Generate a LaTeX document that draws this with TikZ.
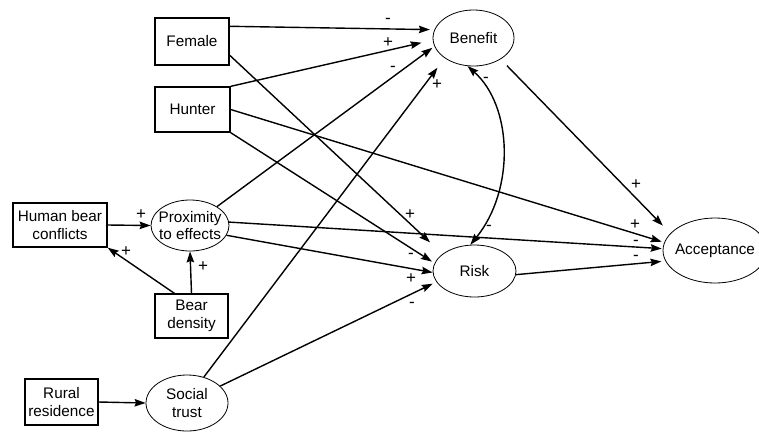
\documentclass[tikz,border=0pt]{standalone}
\usepackage{fontspec}
\setmainfont{Liberation Sans}
\usetikzlibrary{shapes.geometric,arrows.meta}
\newcommand\labfont{\fontsize{15.3}{17.5}\selectfont}
\newcommand\sgnfont{\fontsize{17}{18}\selectfont}
\tikzset{
  box/.style={draw, line width=1.3pt, inner sep=0pt, align=center, font=\labfont},
  ell/.style={draw, ellipse, line width=0.8pt, inner sep=0pt},
  ltxt/.style={align=center, font=\labfont, inner sep=0pt},
  conn/.style={line width=1.4pt, -{Stealth[length=11pt,width=7.5pt,inset=1.5pt]}},
  dconn/.style={line width=1.4pt, {Stealth[length=11pt,width=7.5pt,inset=1.5pt]}-{Stealth[length=11pt,width=7.5pt,inset=1.5pt]}},
  sgn/.style={inner sep=0pt, anchor=base, font=\sgnfont}
}
\begin{document}
\begin{tikzpicture}[x=1pt,y=-1pt]
\useasboundingbox (0,0) rectangle (759,432);
% boxes
\node[box, minimum width=74pt, minimum height=47pt] (female) at (192,41.5) {Female};
\node[box, minimum width=75pt, minimum height=45pt] (hunter) at (192.5,109.5) {Hunter};
\node[box, minimum width=94pt, minimum height=44pt] (hbc) at (60,225) {Human bear\\conflicts};
\node[box, minimum width=73pt, minimum height=44pt] (bear) at (191.5,316) {Bear\\density};
\node[box, minimum width=73pt, minimum height=46pt] (rural) at (61.5,402) {Rural\\residence};
% ellipses
\node[ell, minimum width=78pt, minimum height=51pt] (prox) at (190,225.5) {};
\node[ltxt] (proxt) at (prox.center) {Proximity\\to effects};
\node[ell, minimum width=82pt, minimum height=56pt] (social) at (187,403) {};
\node[ltxt] (socialt) at (social.center) {Social\\trust};
\node[ell, minimum width=81pt, minimum height=56pt] (benefit) at (473.5,38) {};
\node[ltxt] (benefitt) at (benefit.center) {Benefit};
\node[ell, minimum width=83pt, minimum height=52pt] (risk) at (474.5,271) {};
\node[ltxt] (riskt) at (risk.center) {Risk};
\node[ell, minimum width=104pt, minimum height=65pt] (accept) at (715,250.5) {};
\node[ltxt] (acceptt) at (accept.center) {Acceptance};
% connectors to Benefit
\draw[conn, shorten >=4.5pt] (female.22.7) -- (benefit.168.5);
\draw[conn, shorten >=11.5pt] (hunter.north east) -- (benefit.183.4);
\draw[conn, shorten >=2.5pt] (prox.35) -- (benefit.192.5);
\draw[conn, shorten >=12pt] (social.57) -- (benefit.215.7);
% connectors to Risk
\draw[conn, shorten >=17pt] (female.-20) -- (risk.152.9);
\draw[conn, shorten >=3pt] (hunter.south east) -- (risk.169.7);
\draw[conn] (prox.-15) -- (risk.182.8);
\draw[conn, shorten >=4pt] (social.27) -- (risk.196.5);
% connectors to Acceptance
\draw[conn, shorten >=2.6pt] (hunter.east) -- (accept.171.3);
\draw[conn, shorten >=1pt] (prox.5) -- (accept.178.5);
\draw[conn, shorten >=4pt] (risk.-5) -- (accept.192.9);
\draw[conn, shorten <=9pt, shorten >=10.7pt] (benefit.-38) -- (accept.159.3);
% left part
\draw[conn] (hbc.east) -- (prox.west);
\draw[conn] (bear.127.7) -- (hbc.south east);
\draw[conn] (bear.north) -- (prox.south);
\draw[conn] (rural.east) -- (social.west);
% Benefit <-> Risk
\draw[dconn] (benefit.258) .. controls +(45,40) and +(45,-55) .. (risk.99);
% signs
\node[sgn] (s1) at (388,23.5) {-};
\node[sgn] (s2) at (388,47) {+};
\node[sgn] (s3) at (393,71.5) {-};
\node[sgn] (s4) at (437,89) {+};
\node[sgn] (s5) at (486,82.5) {-};
\node[sgn] (s6) at (489,230.5) {-};
\node[sgn] (s7) at (410,219) {+};
\node[sgn] (s8) at (411,258) {-};
\node[sgn] (s9) at (411,283) {+};
\node[sgn] (s10) at (412,307.5) {-};
\node[sgn] (s11) at (636,189) {+};
\node[sgn] (s12) at (635,229) {+};
\node[sgn] (s13) at (636,245.5) {-};
\node[sgn] (s14) at (636,260.5) {-};
\node[sgn] (s15) at (141,219) {+};
\node[sgn] (s16) at (126,256) {+};
\node[sgn] (s17) at (203,271) {+};
\end{tikzpicture}
\end{document}
